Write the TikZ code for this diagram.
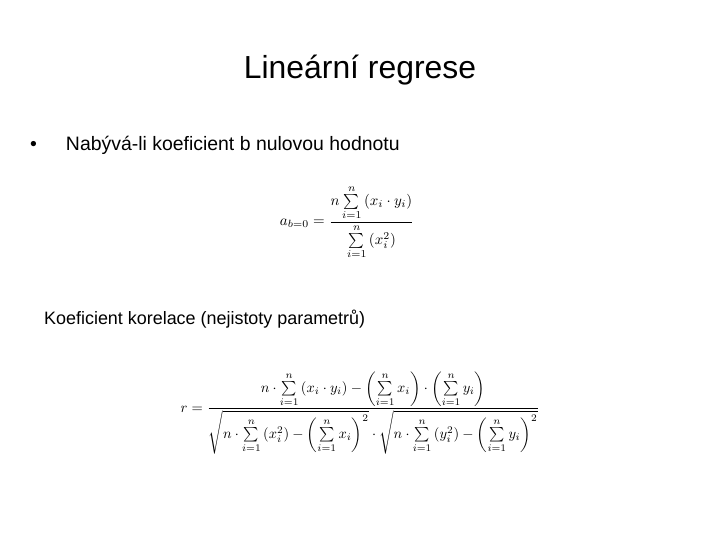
\documentclass[tikz,border=0pt]{standalone}
\usepackage{amsmath}
\usepackage{fontspec}
\setmainfont{Liberation Sans}
\usepackage{graphicx}
\begin{document}
\begin{tikzpicture}[x=1bp,y=-1bp,
  txt/.style={inner sep=0pt,anchor=base west,text=black},
  frm/.style={inner sep=0pt}]
\useasboundingbox (0,0) rectangle (720,540);
\node[inner sep=0pt,anchor=base] (title) at (360,79) {\fontsize{32}{34}\selectfont Lineární regrese};
\node[txt] (b1) at (30,151) {\fontsize{19.5}{21}\selectfont •\hspace{29bp}Nabývá-li koeficient b nulovou hodnotu};
\node[frm] (f1) at (347,222) {\scalebox{1.5}{$\displaystyle a_{b=0}=\frac{n\sum\limits_{i=1}^{n}\left(x_i\cdot y_i\right)}{\sum\limits_{i=1}^{n}\left(x_i^2\right)}$}};
\node[txt] (k) at (44,324) {\fontsize{18}{20}\selectfont Koeficient korelace (nejistoty parametrů)};
\node[frm] (f2) at (360,413) {\scalebox{1.45}{$\displaystyle r=\frac{n\cdot\sum\limits_{i=1}^{n}\left(x_i\cdot y_i\right)-\left(\sum\limits_{i=1}^{n}x_i\right)\cdot\left(\sum\limits_{i=1}^{n}y_i\right)}{\sqrt{n\cdot\sum\limits_{i=1}^{n}\left(x_i^2\right)-\left(\sum\limits_{i=1}^{n}x_i\right)^{2}}\cdot\sqrt{n\cdot\sum\limits_{i=1}^{n}\left(y_i^2\right)-\left(\sum\limits_{i=1}^{n}y_i\right)^{2}}}$}};
\end{tikzpicture}
\end{document}
